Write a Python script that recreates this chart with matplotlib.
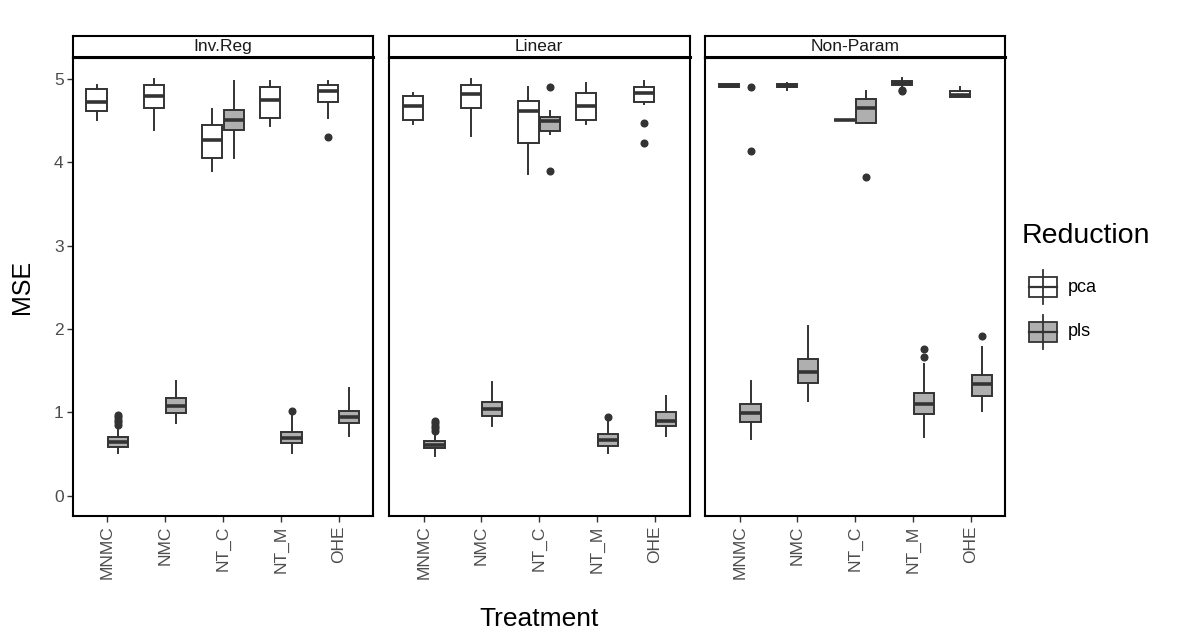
import matplotlib.pyplot as plt
from matplotlib.patches import Rectangle

plt.rcParams['font.family'] = ['Liberation Sans', 'DejaVu Sans']

treatments = ['MNMC', 'NMC', 'NT_C', 'NT_M', 'OHE']
models = ['Inv.Reg', 'Linear', 'Non-Param']
reductions = ['pca', 'pls']

# box summaries per treatment: [whisker low, q1, median, q3, whisker high]
invreg_pca = [[4.51, 4.61, 4.72, 4.88, 4.93],
              [4.39, 4.65, 4.79, 4.93, 5.00],
              [3.89, 4.05, 4.27, 4.45, 4.64],
              [4.44, 4.53, 4.75, 4.90, 4.98],
              [4.53, 4.72, 4.85, 4.93, 4.98]]
invreg_pca_out = [[], [], [], [], [4.30]]
invreg_pls = [[0.51, 0.58, 0.64, 0.70, 0.84],
              [0.87, 0.99, 1.07, 1.17, 1.38],
              [4.05, 4.39, 4.51, 4.63, 4.98],
              [0.51, 0.63, 0.69, 0.76, 0.96],
              [0.72, 0.87, 0.94, 1.02, 1.29]]
invreg_pls_out = [[0.85, 0.88, 0.91, 0.94, 0.97], [], [], [1.02], []]

linear_pca = [[4.46, 4.51, 4.67, 4.80, 4.83],
              [4.31, 4.65, 4.82, 4.93, 5.00],
              [3.86, 4.23, 4.61, 4.73, 4.90],
              [4.46, 4.51, 4.68, 4.83, 4.95],
              [4.70, 4.72, 4.83, 4.90, 4.98]]
linear_pca_out = [[], [], [], [], [4.47, 4.23]]
linear_pls = [[0.48, 0.57, 0.61, 0.65, 0.76],
              [0.84, 0.95, 1.04, 1.12, 1.36],
              [4.34, 4.37, 4.49, 4.54, 4.62],
              [0.51, 0.59, 0.67, 0.74, 0.89],
              [0.72, 0.83, 0.90, 1.00, 1.19]]
linear_pls_out = [[0.78, 0.81, 0.84, 0.87, 0.90], [], [4.90, 3.90], [0.94], []]

nonparam_pca = [[4.90, 4.90, 4.92, 4.94, 4.94],
                [4.87, 4.90, 4.92, 4.94, 4.95],
                [4.51, 4.51, 4.51, 4.51, 4.51],
                [4.92, 4.93, 4.95, 4.97, 5.01],
                [4.78, 4.78, 4.81, 4.85, 4.90]]
nonparam_pca_out = [[], [], [], [4.85, 4.87], []]
nonparam_pls = [[0.68, 0.88, 0.99, 1.10, 1.38],
                [1.13, 1.35, 1.48, 1.64, 2.03],
                [4.47, 4.47, 4.65, 4.76, 4.86],
                [0.70, 0.98, 1.10, 1.23, 1.58],
                [1.02, 1.19, 1.34, 1.45, 1.78]]
nonparam_pls_out = [[4.90, 4.13], [], [3.82], [1.66, 1.76], [1.92]]

panel_data = {
    'Inv.Reg': {'pca': (invreg_pca, invreg_pca_out), 'pls': (invreg_pls, invreg_pls_out)},
    'Linear': {'pca': (linear_pca, linear_pca_out), 'pls': (linear_pls, linear_pls_out)},
    'Non-Param': {'pca': (nonparam_pca, nonparam_pca_out), 'pls': (nonparam_pls, nonparam_pls_out)},
}
fills = {'pca': 'white', 'pls': '#AFAFAF'}
offsets = {'pca': -0.1875, 'pls': 0.1875}
edge = '#333333'

W, H = 1187, 640
fig = plt.figure(figsize=(W / 100, H / 100), dpi=100)

def fig_rect(x0, y0, x1, y1):
    return [x0 / W, (H - y1) / H, (x1 - x0) / W, (y1 - y0) / H]

panel_left = [72.7, 389.0, 705.0]
panel_w = 300.5
ptop, pbot = 58.0, 516.4

for i, m in enumerate(models):
    x0 = panel_left[i]
    ax = fig.add_axes(fig_rect(x0, ptop, x0 + panel_w, pbot))
    for red in reductions:
        boxes, outs = panel_data[m][red]
        stats = []
        for b, o in zip(boxes, outs):
            stats.append(dict(whislo=b[0], q1=b[1], med=b[2], q3=b[3], whishi=b[4], fliers=o))
        pos = [k + 1 + offsets[red] for k in range(len(treatments))]
        ax.bxp(stats, positions=pos, widths=0.35, patch_artist=True, showcaps=False,
               manage_ticks=False,
               boxprops=dict(facecolor=fills[red], edgecolor=edge, linewidth=1.4),
               whiskerprops=dict(color=edge, linewidth=1.4),
               medianprops=dict(color=edge, linewidth=2.6, solid_capstyle='butt'),
               flierprops=dict(marker='o', markerfacecolor=edge, markeredgecolor=edge,
                               markersize=4.8, linestyle='none'))
    ax.set_xlim(0.4, 5.6)
    ax.set_ylim(-0.25, 5.25)
    ax.set_xticks(range(1, 6))
    ax.set_xticklabels(treatments, rotation=90, fontsize=12.5, color='#4D4D4D')
    ax.set_yticks(range(0, 6))
    if i == 0:
        ax.set_yticklabels([str(v) for v in range(6)], fontsize=12.5, color='#4D4D4D')
    else:
        ax.tick_params(axis='y', left=False, labelleft=False)
    ax.tick_params(length=4, width=1, color='#333333', pad=2.5)
    for s in ax.spines.values():
        s.set_linewidth(1.5)
        s.set_color('black')

    sax = fig.add_axes(fig_rect(x0, 36, x0 + panel_w, 56.5))
    sax.set_xticks([])
    sax.set_yticks([])
    for s in sax.spines.values():
        s.set_linewidth(1.5)
    sax.spines['bottom'].set_linewidth(2.2)
    sax.text(0.5, 0.47, m, ha='center', va='center', fontsize=12.5, color='#1A1A1A',
             transform=sax.transAxes)

fig.text(539 / W, 1 - 619 / H, 'Treatment', ha='center', va='center', fontsize=19)
fig.text(22 / W, 1 - 287 / H, 'MSE', ha='center', va='center', rotation=90, fontsize=18)

# legend
lax = fig.add_axes([0, 0, 1, 1])
lax.set_xlim(0, W)
lax.set_ylim(H, 0)
lax.axis('off')
lax.text(1022, 236, 'Reduction', ha='left', va='center', fontsize=20.5)
for k, red in enumerate(reductions):
    cy = 287 + k * 45
    lax.plot([1043, 1043], [cy - 17, cy + 17], color=edge, lw=1.3)
    lax.add_patch(Rectangle((1029, cy - 10), 28, 20, facecolor=fills[red], edgecolor=edge, lw=1.3))
    lax.plot([1029, 1057], [cy, cy], color=edge, lw=1.6)
    lax.text(1068, cy, red, ha='left', va='center', fontsize=13)

fig.savefig('out.png', dpi=100)
